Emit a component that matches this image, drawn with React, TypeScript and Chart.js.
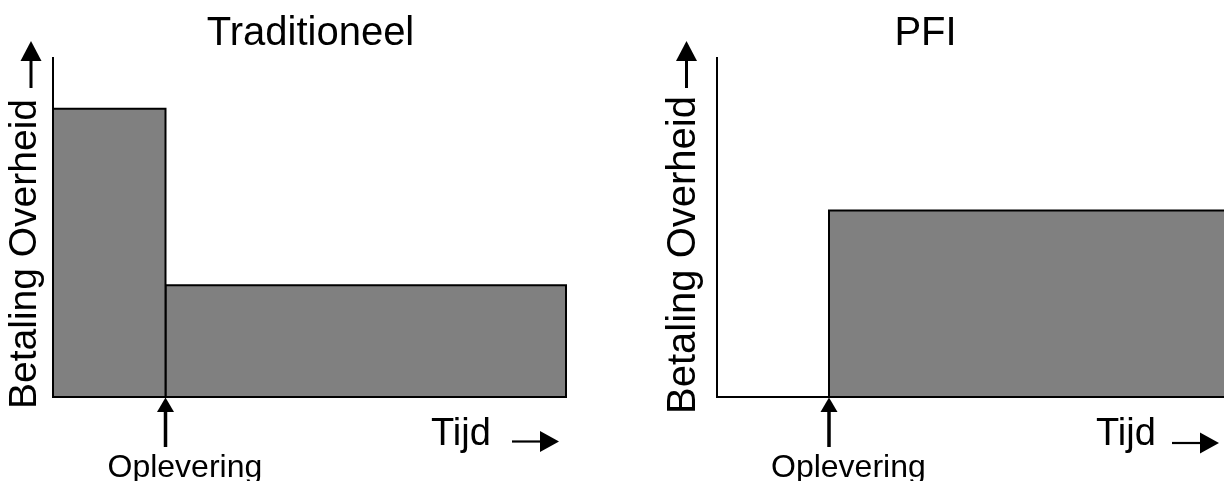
import React, { useEffect, useRef } from "react";
import { Chart, registerables } from "chart.js";

Chart.register(...registerables);

// ---- Data ----
const yAxisLabel = "Betaling Overheid";
const xAxisLabel = "Tijd";
const milestoneLabel = "Oplevering";
const milestoneAt = 1; // time of delivery
const yMax = 10;

// Traditioneel
const tradTitle = "Traditioneel";
const tradPhaseStart = [0, 1];
const tradPhaseEnd = [1, 4.56];
const tradPayment = [8.5, 3.3];
const tradTimeMax = 4.56;

// PFI
const pfiTitle = "PFI";
const pfiPhaseStart = [0, 1];
const pfiPhaseEnd = [1, 4.625];
const pfiPayment = [0, 5.5];
const pfiTimeMax = 4.625;

const FONT = '"Liberation Sans", Arial, Helvetica, sans-serif';

type Deco = {
  title: string;
  titleX: number;
  labelBaselineX: number;
  labelBottomY: number;
  labelSize: number;
  yArrowX: number;
  tijdOffset: number;
  tijdArrowOffset: number;
  tijdY: number;
};

function buildDatasets(starts: number[], ends: number[], levels: number[]) {
  return starts.map((s, i) => ({
    type: "line" as const,
    data: [
      { x: s, y: 0 },
      { x: s, y: levels[i] },
      { x: ends[i], y: levels[i] },
      { x: ends[i], y: 0 },
    ],
    fill: "origin",
    backgroundColor: "#808080",
    borderColor: "#000000",
    borderWidth: 2,
    borderJoinStyle: "miter" as const,
    pointRadius: 0,
    tension: 0,
    clip: 6,
  }));
}

function arrowUp(ctx: CanvasRenderingContext2D, x: number, apexY: number, baseY: number, tailY: number, halfW: number, shaftW: number) {
  ctx.fillStyle = "#000";
  ctx.fillRect(x - shaftW / 2, baseY - 0.5, shaftW, tailY - baseY + 0.5);
  ctx.beginPath();
  ctx.moveTo(x, apexY);
  ctx.lineTo(x - halfW, baseY);
  ctx.lineTo(x + halfW, baseY);
  ctx.closePath();
  ctx.fill();
}

function arrowRight(ctx: CanvasRenderingContext2D, x0: number, baseX: number, apexX: number, y: number, halfH: number, shaftW: number) {
  ctx.fillStyle = "#000";
  ctx.fillRect(x0, y - shaftW / 2, baseX - x0 + 0.5, shaftW);
  ctx.beginPath();
  ctx.moveTo(apexX, y);
  ctx.lineTo(baseX, y - halfH);
  ctx.lineTo(baseX, y + halfH);
  ctx.closePath();
  ctx.fill();
}

function makeDecoPlugin(d: Deco) {
  return {
    id: "deco",
    afterDraw(chart: any) {
      const ctx: CanvasRenderingContext2D = chart.ctx;
      const area = chart.chartArea;
      const xs = chart.scales.x;
      ctx.save();
      ctx.fillStyle = "#000";
      // title
      ctx.font = `40px ${FONT}`;
      ctx.textAlign = "center";
      ctx.textBaseline = "alphabetic";
      ctx.fillText(d.title, d.titleX, 45);

      // y axis label (rotated)
      ctx.save();
      ctx.translate(d.labelBaselineX, d.labelBottomY);
      ctx.rotate(-Math.PI / 2);
      ctx.font = `${d.labelSize}px ${FONT}`;
      ctx.textAlign = "left";
      ctx.fillText(yAxisLabel, 0, 0);
      ctx.restore();

      // y axis arrow
      arrowUp(ctx, d.yArrowX, 41, 61, 88, 10.5, 3);

      // milestone arrow and label
      const mx = xs.getPixelForValue(milestoneAt);
      arrowUp(ctx, mx, 397.5, 412, 447, 8.5, 3.5);
      ctx.font = `32px ${FONT}`;
      ctx.textAlign = "left";
      ctx.fillText(milestoneLabel, mx - 58, 477);

      // time label and arrow
      ctx.font = `38px ${FONT}`;
      ctx.textAlign = "left";
      ctx.fillText(xAxisLabel, area.left + d.tijdOffset, 445);
      const ax = area.left + d.tijdArrowOffset;
      arrowRight(ctx, ax, ax + 28, ax + 47, d.tijdY, 10.5, 2.2);
      ctx.restore();
    },
  };
}

function makeConfig(
  starts: number[],
  ends: number[],
  levels: number[],
  tMax: number,
  padLeft: number,
  padRight: number,
  deco: Deco
): any {
  const axisCommon = {
    grid: { display: false, drawTicks: false },
    ticks: { display: false },
    border: { display: true, color: "#000", width: 2, z: 1 },
    title: { display: false },
  };
  return {
    type: "line",
    data: { datasets: buildDatasets(starts, ends, levels) },
    options: {
      animation: false,
      responsive: false,
      devicePixelRatio: 1,
      layout: { padding: { left: padLeft, right: padRight, top: 58, bottom: 84 } },
      plugins: {
        legend: { display: false },
        tooltip: { enabled: false },
        title: { display: false },
      },
      scales: {
        x: { type: "linear", min: 0, max: tMax, ...axisCommon },
        y: { type: "linear", min: 0, max: yMax, ...axisCommon },
      },
    },
    plugins: [makeDecoPlugin(deco)],
  };
}

function Panel(props: { left: number; width: number; config: any }) {
  const ref = useRef<HTMLCanvasElement | null>(null);
  useEffect(() => {
    if (!ref.current) return;
    const chart = new Chart(ref.current, props.config);
    return () => chart.destroy();
  }, []);
  return (
    <canvas
      ref={ref}
      width={props.width}
      height={481}
      style={{ position: "absolute", left: props.left, top: 0, width: props.width, height: 481 }}
    />
  );
}

export default function App() {
  const leftCfg = makeConfig(tradPhaseStart, tradPhaseEnd, tradPayment, tradTimeMax, 53, 46, {
    title: tradTitle,
    titleX: 310.5,
    labelBaselineX: 36,
    labelBottomY: 409,
    labelSize: 39,
    yArrowX: 31,
    tijdOffset: 378,
    tijdArrowOffset: 459,
    tijdY: 441.5,
  });
  const rightCfg = makeConfig(pfiPhaseStart, pfiPhaseEnd, pfiPayment, pfiTimeMax, 105, 17, {
    title: pfiTitle,
    titleX: 925.5 - 612,
    labelBaselineX: 695 - 612,
    labelBottomY: 414,
    labelSize: 40,
    yArrowX: 686.5 - 612,
    tijdOffset: 379,
    tijdArrowOffset: 455,
    tijdY: 443,
  });
  return (
    <div
      style={{
        position: "fixed",
        left: 0,
        top: 0,
        width: 1224,
        height: 481,
        overflow: "hidden",
        background: "#fff",
      }}
    >
      <Panel left={0} width={612} config={leftCfg} />
      <Panel left={612} width={640} config={rightCfg} />
    </div>
  );
}
